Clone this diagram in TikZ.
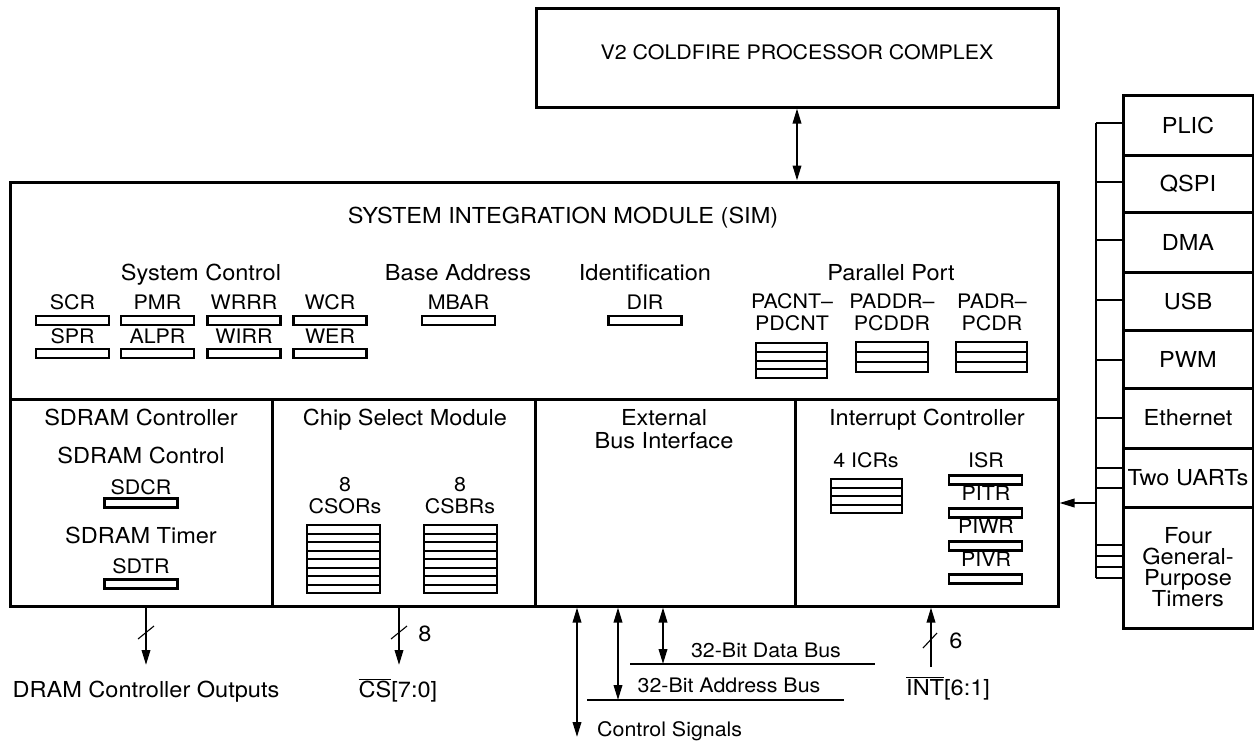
\documentclass[tikz,border=0pt]{standalone}
\usepackage{fontspec}
\setmainfont{TeX Gyre Heros}[FakeStretch=1.07]
\usetikzlibrary{arrows.meta}
\newcommand\ovl[1]{\ensuremath{\overline{\mbox{#1}}}}
\newcommand\regfile[6]{%
  \node[rf, minimum width={#4-#2}, minimum height={#5-#3}] (#1) at ({(#2+#4)/2},{(#3+#5)/2}) {};
  \foreach \k in {1,...,#6} \draw[rfl] (#2,{#3+\k*(#5-#3)/(#6+1)}) -- (#4,{#3+\k*(#5-#3)/(#6+1)});
}
\begin{document}
\begin{tikzpicture}[x=1pt,y=-1pt,
  box/.style={draw, line width=3pt, inner sep=0pt},
  div/.style={line width=3pt},
  reg/.style={draw, line width=2.2pt, minimum width=73pt, minimum height=9pt, inner sep=0pt},
  rf/.style={draw, line width=2.2pt, inner sep=0pt},
  rfl/.style={line width=2pt},
  lbl/.style={font=\fontsize{20}{20}\selectfont, inner sep=0pt, anchor=base},
  hd/.style={font=\fontsize{22}{22}\selectfont, inner sep=0pt, anchor=base},
  big/.style={font=\fontsize{22}{22}\selectfont, inner sep=0pt, anchor=base},
  wire/.style={line width=2pt},
  slash/.style={line width=1.1pt},
  sig/.style={line width=2pt, -{Triangle[length=15pt,width=8.5pt]}},
  dsig/.style={line width=2pt, {Triangle[length=15pt,width=8.5pt]}-{Triangle[length=15pt,width=8.5pt]}},
  periph/.style={draw, line width=3pt, minimum width=130pt, inner sep=0pt, align=center, font=\fontsize{22}{21}\selectfont},
]
\useasboundingbox (0,0) rectangle (1254,740);

% processor complex
\node[box, minimum width=522pt, minimum height=99pt] (v2) at (797,57.5) {};
\node[lbl] (v2t) at (797,59) {V2 COLDFIRE PROCESSOR COMPLEX};

% SIM
\node[box, minimum width=1048pt, minimum height=424pt] (sim) at (534,394) {};
\draw[div] (10,399) -- (1058,399);
\draw[div] (272,399) -- (272,606);
\draw[div] (535,399) -- (535,606);
\draw[div] (795,399) -- (795,606);
\draw[dsig] (v2.south) -- (v2.south |- sim.north);

\node[hd] (simt) at (563,223) {SYSTEM INTEGRATION MODULE (SIM)};
\node[hd] (sysc) at (201,280) {System Control};
\node[hd] (basea) at (458,280) {Base Address};
\node[hd] (ident) at (645,280) {Identification};
\node[hd] (ppt) at (891,280) {Parallel Port};

% system control registers
\node[lbl] (scrl) at (72.5,309) {SCR};
\node[lbl] (pmrl) at (157.5,309) {PMR};
\node[lbl] (wrrrl) at (244,309) {WRRR};
\node[lbl] (wcrl) at (330,309) {WCR};
\node[reg] (scr) at (72.5,320.5) {};
\node[reg] (pmr) at (157.5,320.5) {};
\node[reg] (wrrr) at (244,320.5) {};
\node[reg] (wcr) at (330,320.5) {};
\node[lbl] (sprl) at (72.5,343) {SPR};
\node[lbl] (alprl) at (157.5,343) {ALPR};
\node[lbl] (wirrl) at (244,343) {WIRR};
\node[lbl] (werl) at (330,343) {WER};
\node[reg] (spr) at (72.5,353.5) {};
\node[reg] (alpr) at (157.5,353.5) {};
\node[reg] (wirr) at (244,353.5) {};
\node[reg] (wer) at (330,353.5) {};

\node[lbl] (mbarl) at (458.5,309) {MBAR};
\node[reg] (mbar) at (458.5,320.5) {};
\node[lbl] (dirl) at (645,309) {DIR};
\node[reg] (dir) at (645,320.5) {};

% parallel port
\node[lbl] (pa1) at (792,308) {PACNT–};
\node[lbl] (pa2) at (792,330) {PDCNT};
\node[lbl] (pb1) at (892,308) {PADDR–};
\node[lbl] (pb2) at (892,330) {PCDDR};
\node[lbl] (pc1) at (992,308) {PADR–};
\node[lbl] (pc2) at (992,330) {PCDR};
\regfile{pacnt}{756}{343}{827}{378}{3}
\regfile{paddr}{856}{342}{928}{372}{2}
\regfile{padr}{956}{342}{1027}{372}{2}

% SDRAM controller
\node[hd] (sdt) at (141,425) {SDRAM Controller};
\node[hd] (sdc) at (141,463) {SDRAM Control};
\node[lbl] (sdcrl) at (141,494) {SDCR};
\node[reg] (sdcr) at (141,503) {};
\node[hd] (sdtm) at (141,543) {SDRAM Timer};
\node[lbl] (sdtrl) at (141,573) {SDTR};
\node[reg] (sdtr) at (141,584) {};

% chip select
\node[hd] (cst) at (405,425) {Chip Select Module};
\node[lbl] (cso1) at (345,491) {8};
\node[lbl] (cso2) at (345,513) {CSORs};
\node[lbl] (csb1) at (460,491) {8};
\node[lbl] (csb2) at (460,513) {CSBRs};
\regfile{csor}{307}{525}{380}{593}{7}
\regfile{csbr}{424}{525}{497}{593}{7}

% external bus interface
\node[hd] (ebi1) at (664,425) {External};
\node[hd] (ebi2) at (664,448) {Bus Interface};

% interrupt controller
\node[hd] (ict) at (927,425) {Interrupt Controller};
\node[lbl] (icrl) at (866,467) {4 ICRs};
\regfile{icr}{831}{479}{902}{513}{3}
\node[lbl] (isrl) at (986,467) {ISR};
\node[reg] (isr) at (985.5,480) {};
\node[lbl] (pitrl) at (986,500) {PITR};
\node[reg] (pitr) at (985.5,513) {};
\node[lbl] (piwrl) at (986,533) {PIWR};
\node[reg] (piwr) at (985.5,546) {};
\node[lbl] (pivrl) at (986,566) {PIVR};
\node[reg] (pivr) at (985.5,579) {};

% peripherals
\node[periph, minimum height=60pt] (plic) at (1188,125) {PLIC};
\node[periph, minimum height=57pt] (qspi) at (1188,183.5) {QSPI};
\node[periph, minimum height=60pt] (dma) at (1188,242) {DMA};
\node[periph, minimum height=58pt] (usb) at (1188,301) {USB};
\node[periph, minimum height=58pt] (pwm) at (1188,359) {PWM};
\node[periph, minimum height=60pt] (eth) at (1188,418) {Ethernet};
\node[periph, minimum height=59pt] (uart) at (1188,477.5) {Two UARTs};
\node[periph, minimum height=121pt] (tmr) at (1188,567.5) {Four\\General-\\Purpose\\Timers};

\coordinate (bt) at (1096,123);
\coordinate (bb) at (1096,578);
\draw[wire] (bt) -- (bb);
\foreach \y/\n in {123/plic,182/qspi,240/dma,300/usb,360/pwm,418/eth,468/uart,488/uart,545/tmr,556/tmr,567/tmr,578/tmr}{
  \coordinate (tap) at (1096,\y);
  \draw[wire] (tap) -- (tap -| \n.west);
}
\coordinate (busarr) at (1096,503);
\draw[sig] (busarr) -- (busarr -| sim.east);

% bottom signals
\coordinate (dr) at (146,665);
\draw[sig] (dr |- sim.south) -- (dr);
\draw[slash] (138,639) -- (154,626);
\node[big] (drl) at (146,697) {DRAM Controller Outputs};

\coordinate (cs) at (399,665);
\draw[sig] (cs |- sim.south) -- (cs);
\draw[slash] (391,639) -- (407,626);
\node[big] (csn) at (425,641) {8};
\node[big] (csl) at (398,697) {\ovl{CS}[7:0]};

\coordinate (ctl) at (577,737);
\draw[dsig] (ctl |- sim.south) -- (ctl);
\node[lbl, anchor=base west] (ctll) at (597,736) {Control Signals};

\coordinate (adr) at (618,700);
\draw[dsig] (adr |- sim.south) -- (adr);
\coordinate (adrl0) at (587,700);
\coordinate (adrl1) at (844,700);
\draw[wire] (adrl0) -- (adrl1);
\node[lbl] (adrt) at (729,692) {32-Bit Address Bus};

\coordinate (dat) at (663,664);
\draw[dsig] (dat |- sim.south) -- (dat);
\coordinate (datl0) at (630,664);
\coordinate (datl1) at (875,664);
\draw[wire] (datl0) -- (datl1);
\node[lbl] (datt) at (766,657) {32-Bit Data Bus};

\coordinate (int) at (931,667);
\draw[sig] (int) -- (int |- sim.south);
\draw[slash] (923,648) -- (937,633);
\node[big] (intn) at (956,648) {6};
\node[big, anchor=base west] (intl) at (906,695) {\ovl{INT}[6:1]};
\end{tikzpicture}
\end{document}
